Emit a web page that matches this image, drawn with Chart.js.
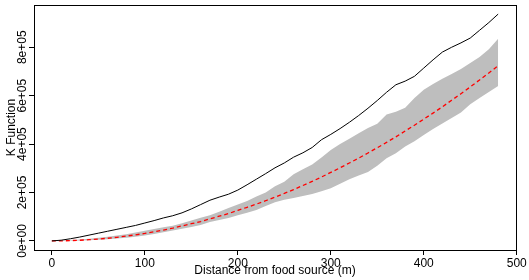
<!DOCTYPE html>
<html>
<head>
<meta charset="utf-8">
<script src="https://cdn.jsdelivr.net/npm/chart.js@4.4.1/dist/chart.umd.min.js"></script>
<style>
  html, body { margin: 0; padding: 0; background: #fff; }
  canvas { display: block; }
</style>
</head>
<body>
<canvas id="k-chart" width="529" height="280"></canvas>
<script>
// distance (m)
const distances = [0,10,20,30,40,50,60,70,80,90,100,110,120,130,140,150,160,170,180,190,
  200,210,220,230,240,250,260,270,280,290,300,310,320,330,340,350,360,370,380,390,
  400,410,420,430,440,450,460,470,480];

// observed K function (black)
const observedK = [0,3000,9000,16000,24000,32000,40000,48000,56000,64000,74000,84000,95000,104000,116000,132000,150000,168000,181000,193000,
  210000,232000,255000,278000,302000,322000,346000,364000,386000,418000,440000,464000,490000,518000,548000,580000,614000,645000,660000,680000,
  714000,748000,780000,800000,818000,838000,870000,902000,937000];

// theoretical K (red dashed)
const theoK = [0,300,1300,2800,5000,7900,11000,15000,20000,25000,31000,38000,45000,53000,62000,71000,80000,91000,102000,113000,
  126000,139000,152000,166000,181000,196000,212000,229000,246000,264000,283000,302000,322000,342000,363000,385000,407000,430000,454000,478000,
  503000,528000,554000,581000,608000,636000,665000,694000,724000];

// simulation envelope (grey band)
const envHi = [0,1000,3000,5500,9000,13000,17000,22000,28000,35000,42000,49000,56000,63000,73000,84000,96000,106000,120000,136000,
  150000,165000,183000,200000,226000,244000,275000,296000,316000,345000,376000,400000,422000,445000,466000,484000,522000,534000,550000,590000,
  624000,648000,670000,690000,710000,735000,760000,792000,835000];
const envLo = [0,0,500,1500,3000,5000,7000,10000,13000,17000,22000,29000,36000,43000,50000,57000,66000,78000,86000,95000,
  106000,116000,128000,144000,160000,170000,177000,186000,194000,205000,218000,236000,255000,270000,285000,310000,342000,362000,390000,412000,
  438000,462000,485000,508000,530000,565000,590000,615000,640000];

const xTicks = [0,100,200,300,400,500];
const yTicks = [0,200000,400000,600000,800000];
const yTickLabels = ['0e+00','2e+05','4e+05','6e+05','8e+05'];

function pts(arr) {
  return distances.map((d, i) => ({x: d, y: arr[i]}));
}

Chart.defaults.font.family = '"Liberation Sans", Arial, sans-serif';
Chart.defaults.font.size = 12;
Chart.defaults.color = '#000';

// box round the plot region, like R's box()
const boxPlugin = {
  id: 'box',
  afterDraw(chart) {
    const a = chart.chartArea, ctx = chart.ctx;
    ctx.save();
    ctx.strokeStyle = '#000';
    ctx.lineWidth = 1;
    ctx.strokeRect(Math.round(a.left) + 0.5, Math.round(a.top) + 0.5,
      Math.round(a.right - a.left), Math.round(a.bottom - a.top));
    ctx.restore();
  }
};

// vertical y tick labels (R las=0)
const yLabelPlugin = {
  id: 'ylabels',
  afterDraw(chart) {
    const sc = chart.scales.y, ctx = chart.ctx;
    ctx.save();
    ctx.font = '12px "Liberation Sans", Arial, sans-serif';
    ctx.fillStyle = '#000';
    ctx.textAlign = 'center';
    ctx.textBaseline = 'alphabetic';
    yTicks.forEach((v, i) => {
      ctx.save();
      ctx.translate(26, sc.getPixelForValue(v));
      ctx.rotate(-Math.PI / 2);
      ctx.fillText(yTickLabels[i], 0, 0);
      ctx.restore();
    });
    ctx.restore();
  }
};

const data = {
  datasets: [
    {label: 'observed', data: pts(observedK), borderColor: '#000', borderWidth: 1, pointRadius: 0, fill: false},
    {label: 'theo', data: pts(theoK), borderColor: '#ff0000', borderWidth: 1.3, borderDash: [4, 3], pointRadius: 0, fill: false},
    {label: 'hi', data: pts(envHi), borderColor: 'rgba(0,0,0,0)', borderWidth: 0, backgroundColor: '#bebebe', pointRadius: 0, fill: '+1'},
    {label: 'lo', data: pts(envLo), borderColor: 'rgba(0,0,0,0)', borderWidth: 0, pointRadius: 0, fill: false}
  ]
};

const config = {
  type: 'line',
  data: data,
  plugins: [boxPlugin, yLabelPlugin],
  options: {
    responsive: false,
    animation: false,
    layout: {padding: {left: 0, top: 5, right: 13, bottom: 0}},
    plugins: {legend: {display: false}, tooltip: {enabled: false}},
    scales: {
      x: {
        type: 'linear',
        min: -19.2,
        max: 499.2,
        afterBuildTicks: s => { s.ticks = xTicks.map(v => ({value: v})); },
        afterFit: s => { s.height = 30; },
        grid: {drawOnChartArea: false, tickLength: 5, color: '#000'},
        border: {display: false},
        ticks: {padding: 1, maxRotation: 0, autoSkip: false},
        title: {display: true, text: 'Distance from food source (m)', padding: {top: 0, bottom: 2.5}}
      },
      y: {
        type: 'linear',
        min: -37500,
        max: 974500,
        afterBuildTicks: s => { s.ticks = yTicks.map(v => ({value: v})); },
        afterFit: s => { s.width = 34; },
        grid: {drawOnChartArea: false, tickLength: 5, color: '#000'},
        border: {display: false},
        ticks: {display: false},
        title: {display: true, text: 'K Function', padding: {top: 4, bottom: 0}}
      }
    }
  }
};

window.onload = function() {
  const ctx = document.getElementById('k-chart').getContext('2d');
  window.kChart = new Chart(ctx, config);
};
</script>
</body>
</html>
